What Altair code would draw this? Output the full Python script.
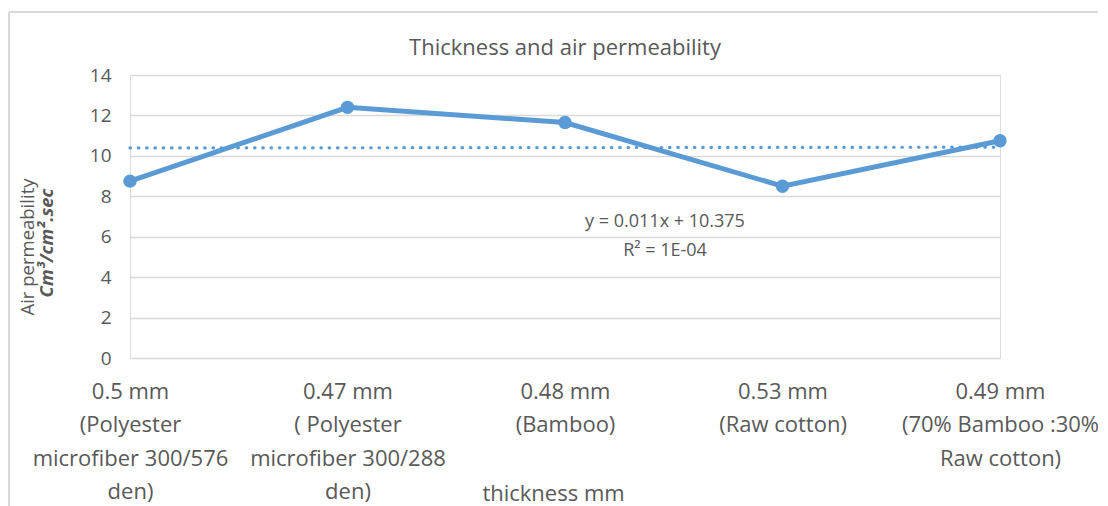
import altair as alt
import pandas as pd
import json

# ---- data ----
idx = [1, 2, 3, 4, 5]
label_lines = [
    ["0.5 mm", "(Polyester", "microfiber 300/576", "den)"],
    ["0.47 mm", "( Polyester", "microfiber 300/288", "den)"],
    ["0.48 mm", "(Bamboo)"],
    ["0.53 mm", "(Raw cotton)"],
    ["0.49  mm", "(70% Bamboo :30%", "Raw cotton)"],
]
air_perm = [8.75, 12.4, 11.65, 8.5, 10.75]
y_ticks = [0, 2, 4, 6, 8, 10, 12, 14]

title_text = "Thickness and air permeability"
x_title = "thickness mm"
y_title1 = "Air permeability"
y_title2 = "Cm³/cm².sec"
eq_lines = ["y = 0.011x + 10.375", "R² = 1E-04"]

df = pd.DataFrame({"idx": idx, "val": air_perm})

BLUE = "#5b9bd5"
GREY = "#595959"
GRID = "#d9d9d9"
FONT = "Open Sans"

W, H = 870, 283

label_expr = json.dumps(label_lines) + "[datum.value - 1]"

x_enc = alt.X("idx:Q",
              scale=alt.Scale(domain=[1, 5], nice=False, zero=False),
              axis=alt.Axis(values=idx, labelExpr=label_expr, grid=False, ticks=False,
                            domain=False, labelFontSize=22, labelColor=GREY,
                            labelFont=FONT, labelLineHeight=33.5, labelPadding=23,
                            labelLimit=500,
                            labelFlush=False, labelOverlap=False, labelBound=False,
                            title=x_title, titleFontSize=22, titleFont=FONT,
                            titleColor=GREY, titleFontWeight="normal",
                            titleX=423, titleY=135, titleBaseline="middle",
                            titleAlign="center", titleAnchor="middle", titleLimit=500))
y_enc = alt.Y("val:Q",
              scale=alt.Scale(domain=[0, 14], nice=False),
              axis=alt.Axis(values=y_ticks, grid=True, gridColor=GRID, gridWidth=1.5,
                            ticks=False, domain=False, labelFontSize=19,
                            labelColor=GREY, labelFont=FONT, labelPadding=19,
                            title=None))

base = alt.Chart(df)

line = base.mark_line(color=BLUE, strokeWidth=5).encode(x=x_enc, y=y_enc)
pts = base.mark_point(filled=True, color=BLUE, size=180, opacity=1).encode(x="idx:Q", y="val:Q")

trend = base.transform_regression("idx", "val", extent=[1, 5]).mark_line(
    color=BLUE, strokeWidth=3.2, strokeDash=[0.5, 7.8], strokeCap="round"
).encode(x="idx:Q", y="val:Q")

eq_df = pd.DataFrame({"t": [eq_lines]})
eq = alt.Chart(eq_df).mark_text(fontSize=18, font=FONT, color=GREY, lineHeight=29,
                                align="center", baseline="middle").encode(
    text="t", x=alt.value(535), y=alt.value(147))

ttl = alt.Chart(pd.DataFrame({"t": [title_text]})).mark_text(
    fontSize=22, font=FONT, color=GREY, align="center", baseline="middle"
).encode(text="t:N", x=alt.value(435), y=alt.value(-27))

yt1 = alt.Chart(pd.DataFrame({"t": [y_title1]})).mark_text(
    fontSize=18.5, font=FONT, color=GREY, angle=270, align="center", baseline="middle"
).encode(text="t:N", x=alt.value(-102), y=alt.value(172))
yt2 = alt.Chart(pd.DataFrame({"t": [y_title2]})).mark_text(
    fontSize=18.5, font=FONT, color=GREY, angle=270, align="center", baseline="middle",
    fontWeight="bold", fontStyle="italic"
).encode(text="t:N", x=alt.value(-83), y=alt.value(168))

border_left = alt.Chart(pd.DataFrame({"a": [0]})).mark_rule(color=GRID, strokeWidth=2).encode(
    x=alt.value(-121), y=alt.value(-63), y2=alt.value(440))
border_top = alt.Chart(pd.DataFrame({"a": [0]})).mark_rule(color=GRID, strokeWidth=2).encode(
    x=alt.value(-121), x2=alt.value(1000), y=alt.value(-63))

chart = alt.layer(border_left, border_top, trend, line, pts, eq, ttl, yt1, yt2).properties(
    width=W, height=H,
    autosize=alt.AutoSizeParams(type="none"),
    padding={"left": 122, "top": 67, "right": 98, "bottom": 148},
).configure_view(stroke=None).configure(background="white")

chart.save("out.html", embed_options={"renderer": "svg", "actions": False})
